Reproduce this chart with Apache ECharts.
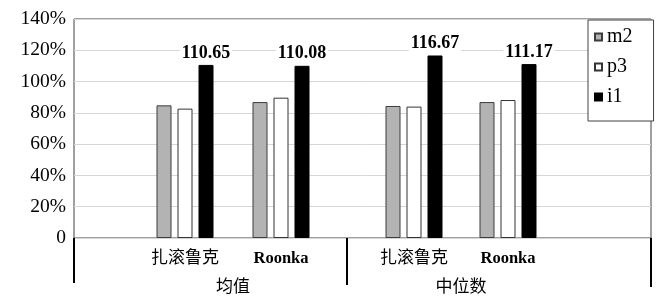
<!DOCTYPE html>
<html>
<head>
<meta charset="utf-8">
<script src="https://cdn.jsdelivr.net/npm/echarts@6/dist/echarts.min.js"></script>
<style>html,body{margin:0;padding:0;background:#fff;}#c{width:669px;height:297px;}</style>
</head>
<body>
<div id="c"></div>
<script>
// ---- data ----
const groups = ['均值', '中位数'];
const places = ['扎滚鲁克', 'Roonka'];
const seriesNames = ['m2', 'p3', 'i1'];
// values per group: [扎滚鲁克, Roonka]
const m2Mean = [84.8, 86.9];
const p3Mean = [82.7, 89.7];
const i1Mean = [110.65, 110.08];
const m2Median = [84.4, 86.9];
const p3Median = [84.0, 88.2];
const i1Median = [116.67, 111.17];
const yTicks = [0, 20, 40, 60, 80, 100, 120, 140];

// ---- styles ----
const SERIF = 'Liberation Serif';
const CJK = '"Liberation Serif","Noto Sans CJK SC"';
const styles = {
  m2: { color: '#b3b3b3', borderColor: '#3c3c3c', borderWidth: 1 },
  p3: { color: '#ffffff', borderColor: '#333333', borderWidth: 1 },
  i1: { color: '#000000', borderColor: '#000000', borderWidth: 1 }
};
const T = 19, B = 238, L = 74, R = 651;

function hiddenY(idx) {
  return { type: 'value', gridIndex: idx, min: yTicks[0], max: yTicks[yTicks.length - 1], interval: 20, show: false };
}
function catAxis(idx, data) {
  return {
    type: 'category', gridIndex: idx, data: data, position: 'bottom',
    axisLine: { show: false }, axisTick: { show: false },
    axisLabel: {
      color: '#000', fontFamily: CJK, fontSize: 17, margin: 12, interval: 0,
      formatter: v => /^[A-Za-z]/.test(v) ? '{b|' + v + '}' : v,
      rich: { b: { fontFamily: SERIF, fontWeight: 'bold', fontSize: 16.5, color: '#000' } }
    }
  };
}
function groupAxis(idx, label) {
  return {
    type: 'category', gridIndex: idx, data: [label], position: 'bottom', offset: 32,
    axisLine: { show: false }, axisTick: { show: false },
    axisLabel: { color: '#000', fontFamily: CJK, fontSize: 17, margin: 9 }
  };
}
function makeSeries(name, data, xIdx, yIdx) {
  const s = {
    name: name, type: 'bar', data: data, xAxisIndex: xIdx, yAxisIndex: yIdx,
    barWidth: 15, barGap: '40%', itemStyle: styles[name], z: 3
  };
  if (name === 'i1') {
    s.label = {
      show: true, position: 'top', distance: 3, color: '#000',
      fontFamily: SERIF, fontWeight: 'bold', fontSize: 18, backgroundColor: '#fff', padding: [0, 2, 0, 2],
      formatter: p => p.value.toFixed(2)
    };
  }
  return s;
}

const chart = echarts.init(document.getElementById('c'));
chart.setOption({
  animation: false,
  backgroundColor: '#fff',
  grid: [
    { left: L, top: T, width: R - L, height: B - T, show: true, borderColor: '#404040', borderWidth: 1, backgroundColor: 'transparent' },
    { left: 137, top: T, width: 192, height: B - T },
    { left: 367, top: T, width: 188, height: B - T }
  ],
  xAxis: [
    { type: 'category', gridIndex: 0, data: [''], show: false },
    catAxis(1, places), groupAxis(1, groups[0]),
    catAxis(2, places), groupAxis(2, groups[1])
  ],
  yAxis: [
    {
      type: 'value', gridIndex: 0, min: yTicks[0], max: yTicks[yTicks.length - 1], interval: 20,
      axisLine: { show: false }, axisTick: { show: false },
      axisLabel: { color: '#000', fontFamily: SERIF, fontSize: 19.5, margin: 8,
        formatter: v => v === 0 ? '0' : v + '%' },
      splitLine: { lineStyle: { color: '#d6d6d6', width: 1 } }
    },
    hiddenY(1), hiddenY(2)
  ],
  legend: {
    data: seriesNames, orient: 'vertical', left: 588, top: 20,
    itemWidth: 7, itemHeight: 7, itemGap: 10, icon: 'rect',
    padding: [7, 21, 14, 6],
    backgroundColor: '#fff', borderColor: '#404040', borderWidth: 1,
    textStyle: { color: '#000', fontFamily: SERIF, fontSize: 20 }
  },
  graphic: [
    { type: 'line', shape: { x1: L, y1: B, x2: L, y2: 283 }, style: { stroke: '#000', lineWidth: 2 }, z: 10 },
    { type: 'line', shape: { x1: 347, y1: B, x2: 347, y2: 285 }, style: { stroke: '#000', lineWidth: 2 }, z: 10 },
    { type: 'line', shape: { x1: R, y1: B, x2: R, y2: 287 }, style: { stroke: '#000', lineWidth: 2 }, z: 10 }
  ],
  series: [
    makeSeries('m2', m2Mean, 1, 1),
    makeSeries('p3', p3Mean, 1, 1),
    makeSeries('i1', i1Mean, 1, 1),
    makeSeries('m2', m2Median, 3, 2),
    makeSeries('p3', p3Median, 3, 2),
    makeSeries('i1', i1Median, 3, 2)
  ]
});
</script>
</body>
</html>
